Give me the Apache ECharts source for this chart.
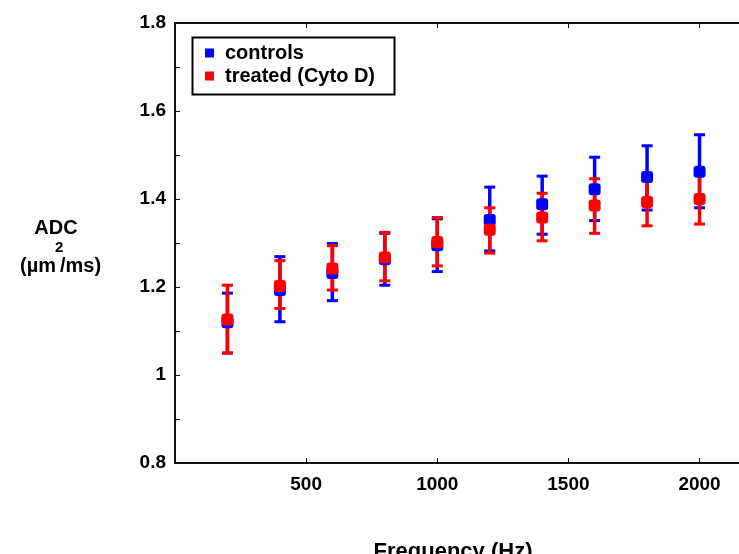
<!DOCTYPE html>
<html>
<head>
<meta charset="utf-8">
<script src="https://cdn.jsdelivr.net/npm/echarts@6/dist/echarts.min.js"></script>
<style>
  html, body { margin: 0; padding: 0; background: #fff; }
  #chart { width: 739px; height: 554px; }
</style>
</head>
<body>
<div id="chart"></div>
<script>
const frequencies = [200, 400, 600, 800, 1000, 1200, 1400, 1600, 1800, 2000];
const controlsMean = [1.120, 1.193, 1.232, 1.263, 1.295, 1.352, 1.388, 1.422, 1.450, 1.462];
const controlsLow  = [1.050, 1.121, 1.169, 1.204, 1.235, 1.282, 1.320, 1.351, 1.375, 1.380];
const controlsHigh = [1.186, 1.269, 1.299, 1.322, 1.355, 1.427, 1.452, 1.495, 1.521, 1.546];
const treatedMean  = [1.126, 1.202, 1.242, 1.267, 1.302, 1.330, 1.358, 1.385, 1.393, 1.400];
const treatedLow   = [1.050, 1.151, 1.193, 1.214, 1.248, 1.277, 1.305, 1.322, 1.339, 1.343];
const treatedHigh  = [1.204, 1.260, 1.294, 1.324, 1.358, 1.380, 1.413, 1.446, 1.450, 1.462];
const xTickLabels = ['500', '1000', '1500', '2000'];
const yTickLabels = ['0.8', '1', '1.2', '1.4', '1.6', '1.8'];
const seriesNames = ['controls', 'treated (Cyto D)'];

const FONT = '"Liberation Sans", Arial, sans-serif';
const BLUE = '#0000ff';
const RED = '#ff0000';

function errData(low, high) {
  return frequencies.map((f, i) => [f, low[i], high[i]]);
}
function pointData(mean) {
  return frequencies.map((f, i) => [f, mean[i]]);
}
function errRender(color) {
  return function (params, api) {
    const x = api.value(0);
    const lo = api.coord([x, api.value(1)]);
    const hi = api.coord([x, api.value(2)]);
    const hw = 5.5;
    return {
      type: 'group',
      children: [
        { type: 'line', shape: { x1: lo[0], y1: lo[1], x2: hi[0], y2: hi[1] }, style: { stroke: color, lineWidth: 3.5 } },
        { type: 'line', shape: { x1: lo[0] - hw, y1: lo[1], x2: lo[0] + hw, y2: lo[1] }, style: { stroke: color, lineWidth: 3 } },
        { type: 'line', shape: { x1: hi[0] - hw, y1: hi[1], x2: hi[0] + hw, y2: hi[1] }, style: { stroke: color, lineWidth: 3 } }
      ]
    };
  };
}

const chart = echarts.init(document.getElementById('chart'), null, { renderer: 'canvas' });
const axisColor = '#111';

chart.setOption({
  animation: false,
  backgroundColor: '#fff',
  textStyle: { fontFamily: FONT },
  grid: { left: 175, top: 23, width: 577, height: 440, containLabel: false, outerBoundsMode: 'none' },
  xAxis: [
    {
      type: 'value', position: 'bottom', min: 0, max: 2200, interval: 500,
      axisLine: { show: true, lineStyle: { color: axisColor, width: 2 } },
      axisTick: { show: true, inside: true, length: 5, lineStyle: { color: axisColor, width: 1 } },
      axisLabel: {
        margin: 12, color: '#000', fontFamily: FONT, fontWeight: 'bold', fontSize: 19,
        formatter: v => { const s = String(v); return xTickLabels.indexOf(s) >= 0 ? s : ''; }
      },
      splitLine: { show: false }
    },
    {
      type: 'value', position: 'top', min: 0, max: 2200, interval: 500,
      axisLine: { show: true, onZero: false, lineStyle: { color: axisColor, width: 2 } },
      axisTick: { show: true, inside: true, length: 5, lineStyle: { color: axisColor, width: 1 } },
      axisLabel: { show: false },
      splitLine: { show: false }
    }
  ],
  yAxis: {
    type: 'value', min: 0.8, max: 1.8, interval: 0.1,
    axisLine: { show: true, lineStyle: { color: axisColor, width: 2 } },
    axisTick: { show: true, inside: true, length: 5, lineStyle: { color: axisColor, width: 1 } },
    axisLabel: {
      margin: 9, color: '#000', fontFamily: FONT, fontWeight: 'bold', fontSize: 19,
      formatter: v => { const s = String(+(+v).toFixed(1)); return yTickLabels.indexOf(s) >= 0 ? s : ''; }
    },
    splitLine: { show: false }
  },
  legend: {
    orient: 'vertical', left: 200, top: 38, padding: 5, itemGap: 3,
    itemWidth: 9, itemHeight: 9, icon: 'rect',
    data: seriesNames,
    textStyle: { color: '#000', fontFamily: FONT, fontWeight: 'bold', fontSize: 20, padding: [0, 0, 0, 6] }
  },
  graphic: [
    { type: 'rect', shape: { x: 192.5, y: 37.5, width: 202, height: 57 }, style: { fill: 'none', stroke: '#000', lineWidth: 2 }, z: 10 },
    { type: 'text', x: 56, y: 228, style: { text: 'ADC', font: 'bold 20px ' + FONT, fill: '#000', textAlign: 'center', textVerticalAlign: 'middle' } },
    { type: 'text', x: 56, y: 266, style: { text: '(\u00b5m', font: 'bold 20px ' + FONT, fill: '#000', textAlign: 'right', textVerticalAlign: 'middle' } },
    { type: 'text', x: 55, y: 248, style: { text: '2', font: 'bold 15px ' + FONT, fill: '#000', textAlign: 'left', textVerticalAlign: 'middle' } },
    { type: 'text', x: 60, y: 266, style: { text: '/ms)', font: 'bold 20px ' + FONT, fill: '#000', textAlign: 'left', textVerticalAlign: 'middle' } },
    { type: 'text', x: 453, y: 552, style: { text: 'Frequency (Hz)', font: 'bold 22px ' + FONT, fill: '#000', textAlign: 'center', textVerticalAlign: 'middle' } }
  ],
  series: [
    {
      name: 'controls-err', type: 'custom', xAxisIndex: 0, yAxisIndex: 0,
      renderItem: errRender(BLUE), data: errData(controlsLow, controlsHigh),
      encode: { x: 0, y: [1, 2] }, z: 2, silent: true
    },
    {
      name: seriesNames[0], type: 'scatter', xAxisIndex: 0, yAxisIndex: 0,
      symbol: 'roundRect', symbolSize: 12, itemStyle: { color: BLUE, opacity: 1 },
      data: pointData(controlsMean), z: 2
    },
    {
      name: 'treated-err', type: 'custom', xAxisIndex: 0, yAxisIndex: 0,
      renderItem: errRender(RED), data: errData(treatedLow, treatedHigh),
      encode: { x: 0, y: [1, 2] }, z: 2, silent: true
    },
    {
      name: seriesNames[1], type: 'scatter', xAxisIndex: 0, yAxisIndex: 0,
      symbol: 'roundRect', symbolSize: 12, itemStyle: { color: RED, opacity: 1 },
      data: pointData(treatedMean), z: 2
    }
  ]
});
</script>
</body>
</html>
